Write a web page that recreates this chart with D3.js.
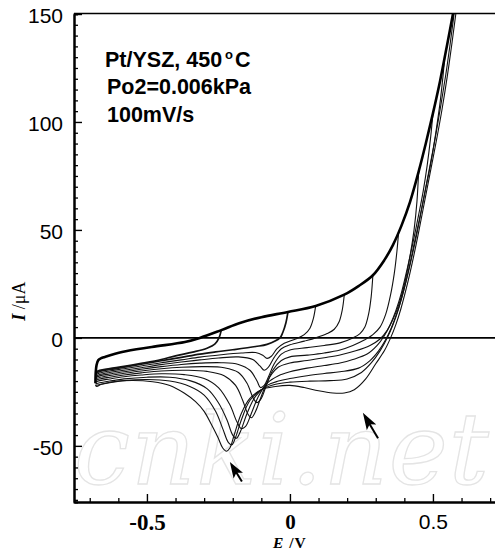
<!DOCTYPE html>
<html><head><meta charset="utf-8">
<script src="https://cdn.jsdelivr.net/npm/d3@7"></script>
<style>html,body{margin:0;padding:0;background:#fff;} svg{display:block}</style>
</head><body>
<svg id="chart" width="495" height="552"></svg>
<script>
// ---------- data ----------
const xDomain = [-0.755, 0.717];
const yDomain = [-76, 150];
const xMajorTicks = [-0.5, 0, 0.5];
const xTickLabels = ["-0.5", "0", "0.5"];
const yMajorTicks = [-50, 0, 50, 100, 150];
const yTickLabels = ["-50", "0", "50", "100", "150"];
const infoLines = ["Pt/YSZ, 450", "Po2=0.006kPa", "100mV/s"];
const xTitle = ["E", " /V"];
const yTitle = ["I", " /\u03bcA"];
const watermark = "cnki.net";

// forward (anodic) sweep, shared by all cycles  [E (V), I (uA)]
const anodic = [[-0.68,-21],[-0.679,-16],[-0.676,-12.5],[-0.67,-10.3],[-0.66,-9.4],[-0.647,-8.8],[-0.587,-6.5],[-0.483,-4.2],[-0.367,-1.9],[-0.315,0],[-0.24,3.6],[-0.175,6.9],[-0.1,9.6],[-0.007,12],[0.09,14.8],[0.19,20],[0.24,24],[0.29,29],[0.33,36],[0.36,43],[0.39,52],[0.42,63],[0.45,77],[0.475,90],[0.5,104],[0.525,119],[0.55,136],[0.57,150],[0.6,172]];

// reverse (cathodic) sweeps, one per anodic switching potential
const ret1 = [[-0.24,3.6],[-0.248,0],[-0.262,-2.8],[-0.29,-4.8],[-0.34,-6.6],[-0.4,-8.3],[-0.45,-10],[-0.52,-11.8],[-0.58,-13.2],[-0.63,-14.2],[-0.665,-15],[-0.68,-16]];
const ret2 = [[-0.007,12],[-0.014,7],[-0.025,2.5],[-0.035,0],[-0.08,-3],[-0.12,-4],[-0.2,-5.5],[-0.26,-6.5],[-0.315,-7.5],[-0.38,-9],[-0.45,-10.6],[-0.52,-12.2],[-0.58,-13.6],[-0.63,-14.6],[-0.665,-15.5],[-0.68,-16.5]];
const ret3 = [[0.09,14.8],[0.082,9],[0.07,4.5],[0.05,1.5],[0.02,-0.5],[-0.02,-2.5],[-0.045,-5],[-0.065,-8.5],[-0.08,-9.5],[-0.095,-8],[-0.12,-6.8],[-0.17,-7],[-0.24,-7.8],[-0.315,-8.9],[-0.38,-10.2],[-0.45,-11.5],[-0.52,-13],[-0.58,-14.3],[-0.63,-15.3],[-0.665,-16.3],[-0.68,-17.3]];
const ret4 = [[0.19,20],[0.183,13],[0.172,7.5],[0.155,4],[0.13,2],[0.09,0],[0.05,-1.5],[0,-3.2],[-0.03,-5],[-0.055,-9],[-0.075,-13.5],[-0.09,-15],[-0.105,-13],[-0.13,-10],[-0.18,-8.8],[-0.25,-9.3],[-0.315,-10.2],[-0.38,-11.2],[-0.45,-12.4],[-0.52,-13.8],[-0.58,-15],[-0.63,-16],[-0.665,-17],[-0.68,-18]];
const ret5 = [[0.29,29],[0.284,19],[0.275,11],[0.262,5],[0.245,2],[0.22,0],[0.175,-2.3],[0.12,-3.5],[0.06,-4.5],[0,-5.6],[-0.03,-7.5],[-0.055,-12],[-0.075,-18],[-0.09,-22],[-0.103,-23],[-0.115,-20],[-0.14,-15],[-0.18,-12.3],[-0.24,-11.5],[-0.315,-11.7],[-0.38,-12.3],[-0.45,-13.3],[-0.52,-14.5],[-0.58,-15.7],[-0.63,-16.7],[-0.665,-17.6],[-0.68,-18.5]];
const ret6 = [[0.38,49],[0.374,40],[0.365,30],[0.352,20],[0.335,11],[0.315,5],[0.29,1.5],[0.26,-1],[0.22,-3.5],[0.175,-5.6],[0.12,-7],[0.06,-8],[0,-8.8],[-0.03,-10.5],[-0.06,-15],[-0.085,-23],[-0.1,-28],[-0.115,-30],[-0.128,-28],[-0.15,-21],[-0.18,-16],[-0.23,-13.8],[-0.3,-13.3],[-0.38,-13.6],[-0.45,-14.3],[-0.52,-15.3],[-0.58,-16.4],[-0.63,-17.4],[-0.665,-18.3],[-0.68,-19]];
const ret7 = [[0.45,77],[0.444,63],[0.434,50],[0.42,38],[0.402,26],[0.382,16],[0.36,8.5],[0.34,3.5],[0.315,-0.5],[0.28,-3.5],[0.23,-6],[0.175,-7.9],[0.12,-9.2],[0.06,-10.5],[0,-11.6],[-0.04,-13.5],[-0.07,-18],[-0.1,-27],[-0.12,-34],[-0.135,-37],[-0.148,-35],[-0.165,-29],[-0.19,-22],[-0.23,-17.5],[-0.29,-15.5],[-0.36,-15],[-0.45,-15.3],[-0.52,-16.2],[-0.58,-17.2],[-0.63,-18.2],[-0.665,-19],[-0.68,-19.7]];
const ret8 = [[0.5,104],[0.492,93],[0.48,80],[0.466,68],[0.45,57],[0.43,44],[0.41,32],[0.39,21],[0.37,12.5],[0.35,6],[0.33,1],[0.305,-3.5],[0.27,-7.5],[0.22,-10],[0.175,-11.6],[0.12,-12.8],[0.06,-14],[0,-15.7],[-0.04,-17.5],[-0.08,-21],[-0.11,-27],[-0.135,-35],[-0.155,-41],[-0.17,-42],[-0.185,-39],[-0.21,-31],[-0.25,-23],[-0.3,-18.8],[-0.37,-17],[-0.45,-16.6],[-0.52,-17.2],[-0.58,-18],[-0.63,-19],[-0.665,-19.8],[-0.68,-20.5]];
const ret9 = [[0.542,131],[0.535,121],[0.524,108],[0.51,95],[0.494,82],[0.476,70],[0.456,57],[0.435,44],[0.414,31],[0.394,20],[0.374,11.5],[0.354,4.5],[0.334,-1],[0.31,-6],[0.28,-10.5],[0.24,-14],[0.175,-15.7],[0.12,-16.5],[0.06,-17.5],[0,-18.8],[-0.04,-20],[-0.08,-22],[-0.12,-27],[-0.15,-35],[-0.172,-43],[-0.187,-46.5],[-0.2,-45],[-0.22,-38],[-0.25,-30],[-0.29,-23.5],[-0.35,-19.8],[-0.42,-18.2],[-0.5,-18.2],[-0.58,-19],[-0.63,-20],[-0.665,-20.8],[-0.68,-21.3]];
const ret10 = [[0.58,157],[0.572,148],[0.56,136],[0.545,122],[0.528,108],[0.51,94],[0.49,80],[0.468,65],[0.445,49],[0.422,35],[0.4,23],[0.38,13.5],[0.36,6],[0.34,0],[0.315,-6],[0.285,-11.5],[0.25,-16],[0.2,-19],[0.14,-19.8],[0.07,-20],[0,-20.5],[-0.05,-21.5],[-0.1,-24],[-0.14,-29],[-0.17,-38],[-0.19,-46],[-0.203,-49.5],[-0.215,-48.5],[-0.235,-42],[-0.26,-34],[-0.3,-26.5],[-0.35,-22.5],[-0.42,-20],[-0.5,-19.3],[-0.58,-19.8],[-0.63,-20.8],[-0.665,-21.6],[-0.68,-22]];
const ret11 = [[0.6,172],[0.592,162],[0.58,150],[0.566,136],[0.55,121],[0.532,106],[0.513,92],[0.494,79],[0.472,64],[0.45,49],[0.428,35],[0.407,23],[0.388,13.5],[0.37,6],[0.352,0],[0.33,-6],[0.3,-12],[0.265,-19],[0.225,-24],[0.19,-25.5],[0.15,-25.5],[0.1,-24.5],[0.05,-23],[0,-22],[-0.05,-22.5],[-0.1,-24],[-0.14,-28],[-0.17,-35],[-0.195,-45],[-0.21,-51],[-0.222,-52.5],[-0.235,-51],[-0.252,-46],[-0.275,-40],[-0.3,-34],[-0.33,-29.5],[-0.37,-25.5],[-0.42,-22],[-0.48,-20.3],[-0.55,-19.7],[-0.62,-20.3],[-0.66,-21.5],[-0.675,-22.5],[-0.68,-22]];

// arrows (data coordinates): tip, tail
const arrowTips  = [[-0.21,-57.5],[0.255,-34.7]];
const arrowTails = [[-0.168,-66.5],[0.308,-46.5]];

// ---------- drawing ----------
const svg = d3.select("#chart");
const x = d3.scaleLinear().domain(xDomain).range([74, 495]);
const y = d3.scaleLinear().domain(yDomain).range([502, 14]);

// faint watermark
svg.append("text")
  .attr("x", 74).attr("y", 484)
  .attr("font-family", "DejaVu Serif").attr("font-style", "italic")
  .attr("font-size", 100)
  .attr("textLength", 415).attr("lengthAdjust", "spacing")
  .attr("fill", "none").attr("stroke", "#e4e4e4").attr("stroke-width", 1.3)
  .text(watermark);

svg.append("defs").append("clipPath").attr("id", "plotclip")
  .append("rect").attr("x", x.range()[0]).attr("y", y(yDomain[1]))
  .attr("width", x.range()[1] - x.range()[0]).attr("height", y(yDomain[0]) - y(yDomain[1]));

const line = d3.line().x(d => x(d[0])).y(d => y(d[1])).curve(d3.curveCatmullRom.alpha(0.5));

const g = svg.append("g").attr("clip-path", "url(#plotclip)");
g.append("line").attr("x1", x.range()[0]).attr("x2", x.range()[1])
  .attr("y1", y(0)).attr("y2", y(0)).attr("stroke", "#000").attr("stroke-width", 1.8);

const thinBranches = [ret3, ret4, ret5, ret6, ret7, ret8, ret9, ret10, ret11];
const thickBranches = [ret1, ret2];
g.selectAll("path.thin").data(thinBranches).join("path").attr("class", "thin")
  .attr("d", line).attr("fill", "none").attr("stroke", "#111").attr("stroke-width", 1.1)
  .attr("stroke-linejoin", "round");
g.selectAll("path.thick").data(thickBranches).join("path").attr("class", "thick")
  .attr("d", line).attr("fill", "none").attr("stroke", "#111").attr("stroke-width", 1.7)
  .attr("stroke-linejoin", "round");
g.append("path").datum(anodic).attr("d", line).attr("fill", "none")
  .attr("stroke", "#000").attr("stroke-width", 2.6).attr("stroke-linejoin", "round");

// frame top
svg.append("line").attr("x1", x.range()[0]).attr("x2", x.range()[1])
  .attr("y1", y(yDomain[1]) - 0.5).attr("y2", y(yDomain[1]) - 0.5)
  .attr("stroke", "#000").attr("stroke-width", 1.6);

// y axis
const yMinor = d3.range(-75, 151, 5).filter(v => !yMajorTicks.includes(v));
const yAxisG = svg.append("g").attr("transform", `translate(${x.range()[0]},0)`);
yAxisG.call(d3.axisLeft(y).tickValues(yMinor).tickSize(-4).tickFormat(""));
yAxisG.selectAll(".tick line").attr("stroke-width", 1.3);
const yAxisMajor = svg.append("g").attr("transform", `translate(${x.range()[0]},0)`)
  .call(d3.axisLeft(y).tickValues(yMajorTicks).tickSize(-8).tickSizeOuter(0).tickPadding(11)
    .tickFormat((d, i) => yTickLabels[i]));
yAxisMajor.selectAll("text").attr("font-family", "Liberation Sans, Arial, sans-serif")
  .attr("font-size", 21).attr("fill", "#000").attr("dy", "0.42em");
yAxisMajor.selectAll(".tick line").attr("stroke-width", 1.4);

// x axis
const xMinor = d3.range(-7, 8).map(v => v / 10).filter(v => !xMajorTicks.some(t => Math.abs(t - v) < 1e-9));
const xAxisG = svg.append("g").attr("transform", `translate(0,${y.range()[0]})`);
xAxisG.call(d3.axisBottom(x).tickValues(xMinor).tickSize(-4).tickSizeOuter(0).tickFormat(""));
xAxisG.selectAll(".tick line").attr("stroke-width", 1.3);
const xAxisMajor = svg.append("g").attr("transform", `translate(0,${y.range()[0]})`)
  .call(d3.axisBottom(x).tickValues(xMajorTicks).tickSize(-8).tickSizeOuter(0).tickPadding(12)
    .tickFormat((d, i) => xTickLabels[i]));
xAxisMajor.selectAll(".tick line").attr("stroke-width", 1.4);
xAxisMajor.selectAll("text")
  .attr("fill", "#000")
  .attr("font-family", (d, i) => i < 2 ? "Liberation Serif, Times New Roman, serif" : "Liberation Sans, Arial, sans-serif")
  .attr("font-weight", (d, i) => i < 2 ? "bold" : "normal")
  .attr("font-size", (d, i) => i === 0 ? 23 : 21);
svg.selectAll(".domain").attr("stroke-width", 2).attr("stroke", "#000");

// axis titles
const xt = svg.append("text").attr("x", x(0)).attr("y", 548).attr("text-anchor", "middle")
  .attr("font-family", "Liberation Serif, Times New Roman, serif").attr("font-weight", "bold")
  .attr("font-size", 15.5).attr("letter-spacing", 1).attr("fill", "#000");
xt.append("tspan").attr("font-style", "italic").text(xTitle[0]);
xt.append("tspan").text(xTitle[1]);

const yt = svg.append("text").attr("transform", `translate(25,${y(17)}) rotate(-90)`)
  .attr("text-anchor", "middle")
  .attr("font-family", "Liberation Serif, Times New Roman, serif")
  .attr("font-size", 18).attr("fill", "#000");
yt.append("tspan").attr("font-style", "italic").attr("font-weight", "bold").text(yTitle[0]);
yt.append("tspan").text(yTitle[1]);

// info text
const info = svg.append("g").attr("font-family", "Liberation Sans, Arial, sans-serif")
  .attr("font-weight", "bold").attr("font-size", 21.5).attr("fill", "#000");
const baselines = [67, 94, 122];
infoLines.forEach((t, i) => {
  const tx = info.append("text").attr("x", i === 0 ? 105 : 107).attr("y", baselines[i]).text(t);
  if (i === 0) {
    tx.append("tspan").attr("font-size", 13).attr("dx", 3).attr("dy", -8).text("o");
    tx.append("tspan").attr("dx", 2).attr("dy", 8).text("C");
  }
});

// arrows
arrowTips.forEach((tip, i) => {
  const tail = arrowTails[i];
  const tx = x(tip[0]), ty = y(tip[1]), sx = x(tail[0]), sy = y(tail[1]);
  const L = Math.hypot(sx - tx, sy - ty);
  const ux = (sx - tx) / L, uy = (sy - ty) / L;
  const hl = Math.min(17, L * 0.7), hw = 5.5;
  const bx = tx + ux * hl, by = ty + uy * hl;
  svg.append("polygon")
    .attr("points", [[tx, ty], [bx - uy * hw, by + ux * hw], [tx + ux * hl * 0.78, ty + uy * hl * 0.78], [bx + uy * hw, by - ux * hw]].map(p => p.join(",")).join(" "))
    .attr("fill", "#000");
  svg.append("line").attr("x1", tx + ux * hl * 0.7).attr("y1", ty + uy * hl * 0.7)
    .attr("x2", sx).attr("y2", sy).attr("stroke", "#000").attr("stroke-width", 2);
});
</script>
</body></html>
